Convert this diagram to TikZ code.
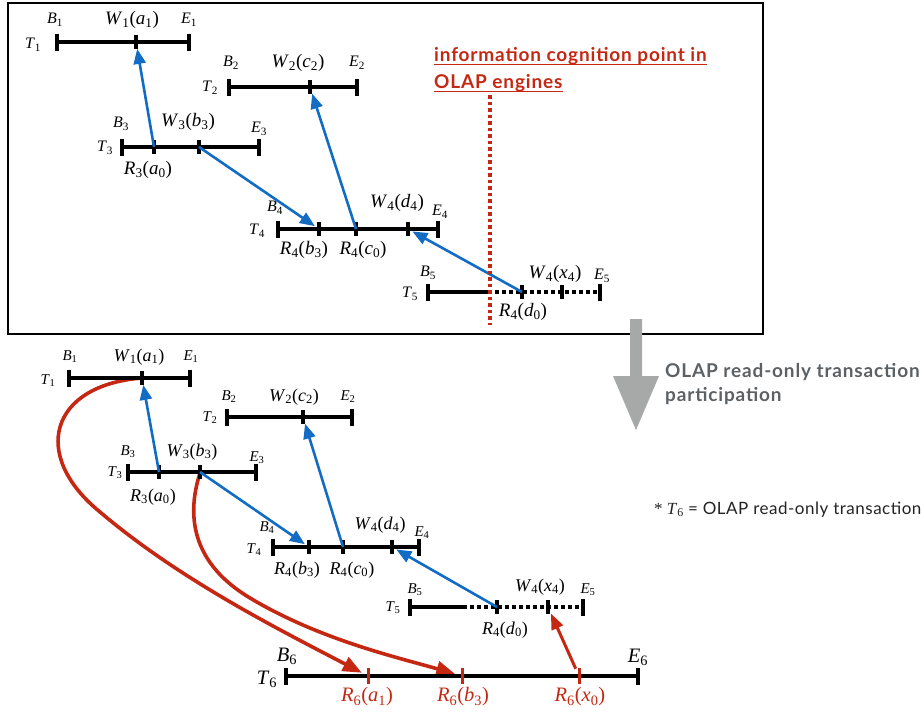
\documentclass[tikz,border=0pt]{standalone}
\usepackage{fontspec}
\setmainfont{Liberation Serif}
\newfontfamily\lato{Lato}[LetterSpace=4.5]
\newfontfamily\latonote{Lato}[LetterSpace=3]
\usetikzlibrary{arrows.meta}
\definecolor{myblue}{RGB}{18,108,196}
\definecolor{myred}{RGB}{196,40,18}
\definecolor{mygrey}{RGB}{166,169,168}
\definecolor{greytext}{RGB}{92,97,102}
\definecolor{notetext}{RGB}{35,35,35}
\tikzset{
  tl/.style={line width=4pt},
  tk/.style={line width=3.5pt},
  blu/.style={draw=myblue,line width=2.6pt,-{Triangle[length=15pt,width=12pt]}},
  redc/.style={draw=myred,line width=3.6pt,-{Triangle[length=19pt,width=15pt]}},
  redl/.style={draw=myred,line width=3pt,-{Triangle[length=16pt,width=12pt]}},
  lab/.style={font=\fontsize{19}{22}\selectfont, inner sep=0pt},
  slab/.style={font=\fontsize{16}{19}\selectfont, inner sep=0pt},
  blab/.style={font=\fontsize{18}{21}\selectfont, inner sep=0pt},
  bslab/.style={font=\fontsize{15}{18}\selectfont, inner sep=0pt},
  glab/.style={font=\fontsize{20.5}{24}\selectfont, inner sep=0pt},
  sanstxt/.style={font=\lato\bfseries\fontsize{19}{22}\selectfont, inner sep=0pt, anchor=base west}
}
\newcommand\tlab[4]{\textit{#1}\textsubscript{#2}(\textit{#3}\textsubscript{#4})}
\newcommand\blab[2]{\textit{#1}\textsubscript{#2}}
\newcommand\mytl[3]{\draw[tl] (#1,#3) -- (#2,#3);
  \draw[tl] (#1,#3-8.5) -- (#1,#3+8.5);
  \draw[tl] (#2,#3-8.5) -- (#2,#3+8.5);}
\newcommand\mytk[3]{\draw[tk] (#1,#2-7) -- (#1,#2+7); \coordinate (#3) at (#1,#2);}
\begin{document}
\begin{tikzpicture}[x=1pt,y=-1pt]
\useasboundingbox (0,0) rectangle (921,715);

% ---------------- top panel ----------------
\draw[line width=1.8pt] (8,3) rectangle (763,334);

% T1
\mytl{57}{189}{42} \mytk{136}{42}{w1}
\node[slab] (tb1) at (55,20) {\blab{B}{1}};
\node[lab] (tw1) at (132,20) {\tlab{W}{1}{a}{1}};
\node[slab] (te1) at (189,20) {\blab{E}{1}};
\node[slab] (tt1) at (33,45) {\blab{T}{1}};
% T2
\mytl{229}{357}{87} \mytk{310}{87}{w2}
\node[slab] (tb2) at (231,63) {\blab{B}{2}};
\node[lab] (tw2) at (298,63) {\tlab{W}{2}{c}{2}};
\node[slab] (te2) at (357,63) {\blab{E}{2}};
\node[slab] (tt2) at (210,88) {\blab{T}{2}};
% T3
\mytl{122}{259}{147} \mytk{154}{147}{r3} \mytk{199}{147}{w3}
\node[slab] (tb3) at (121,124) {\blab{B}{3}};
\node[lab] (tw3) at (188,122) {\tlab{W}{3}{b}{3}};
\node[slab] (te3) at (259,129) {\blab{E}{3}};
\node[slab] (tt3) at (105,148) {\blab{T}{3}};
\node[lab] (tr3) at (148,170) {\tlab{R}{3}{a}{0}};
% T4
\mytl{278}{438}{229} \mytk{319}{229}{r4b} \mytk{356}{229}{r4c} \mytk{408}{229}{w4d}
\node[slab] (tb4) at (275,208) {\blab{B}{4}};
\node[lab] (tw4) at (397,203) {\tlab{W}{4}{d}{4}};
\node[slab] (te4) at (440,212) {\blab{E}{4}};
\node[slab] (tt4) at (257,231) {\blab{T}{4}};
\node[lab] (tr4b) at (304,250) {\tlab{R}{4}{b}{3}};
\node[lab] (tr4c) at (363,250) {\tlab{R}{4}{c}{0}};
% T5
\draw[tl] (428,292) -- (488,292);
\draw[tl,dash pattern=on 4pt off 3pt] (488,292) -- (600,292);
\draw[tl] (428,283.5) -- (428,300.5);
\draw[tl] (600,283.5) -- (600,300.5);
\mytk{522}{292}{r4d} \mytk{562}{292}{w4x}
\node[slab] (tb5) at (428,273) {\blab{B}{5}};
\node[lab] (tw5) at (555,274) {\tlab{W}{4}{x}{4}};
\node[slab] (te5) at (602,276) {\blab{E}{5}};
\node[slab] (tt5) at (410,294) {\blab{T}{5}};
\node[lab] (tr4d) at (523,312) {\tlab{R}{4}{d}{0}};

% blue arrows top
\draw[blu,shorten >=7pt] (r3) -- (w1);
\draw[blu,shorten >=5pt] (w3) -- (r4b);
\draw[blu,shorten >=7pt] (r4c) -- (w2);
\draw[blu,shorten >=5pt] (r4d) -- (w4d);

% information cognition point
\draw[myred,line width=3.5pt,dash pattern=on 3.5pt off 3pt] (490,95) -- (490,325);
\node[sanstxt,text=myred] (ic1) at (434,61) {information cognition point in};
\node[sanstxt,text=myred] (ic2) at (434,88) {OLAP engines};
\draw[myred,line width=1.3pt] ([yshift=-3.5pt]ic1.base west) -- ([yshift=-3.5pt]ic1.base east);
\draw[myred,line width=1.3pt] ([yshift=-3.5pt]ic2.base west) -- ([yshift=-3.5pt]ic2.base east);

% grey arrow
\fill[mygrey] (630,319) -- (642,319) -- (642,376) -- (659,376) -- (636,430) -- (613,376) -- (630,376) -- cycle;
\node[sanstxt,text=greytext] (g1) at (665,377) {OLAP read-only transaction};
\node[sanstxt,text=greytext] (g2) at (665,401) {participation};

% ---------------- bottom panel ----------------
% red curves
\draw[redc,shorten >=7pt] (142,378) .. controls (50,385) and (30,455) .. (100,512)
  .. controls (180,580) and (280,630) .. (368,676);
\draw[redc,shorten >=7pt] (200,473) .. controls (185,520) and (195,565) .. (250,598)
  .. controls (320,640) and (400,658) .. (462,676);

% T1
\mytl{69}{190}{378} \mytk{142}{378}{bw1}
\node[bslab] (bb1) at (70,357) {\blab{B}{1}};
\node[blab] (bw1l) at (139,357) {\tlab{W}{1}{a}{1}};
\node[bslab] (be1) at (191,357) {\blab{E}{1}};
\node[bslab] (bt1) at (48,381) {\blab{T}{1}};
% T2
\mytl{227}{352}{417} \mytk{303}{417}{bw2}
\node[bslab] (bb2) at (229,397) {\blab{B}{2}};
\node[blab] (bw2l) at (294,397) {\tlab{W}{2}{c}{2}};
\node[bslab] (be2) at (348,397) {\blab{E}{2}};
\node[bslab] (bt2) at (210,418) {\blab{T}{2}};
% T3
\mytl{128}{256}{472} \mytk{159}{472}{br3} \mytk{200}{472}{bw3}
\node[bslab] (bb3) at (128,452) {\blab{B}{3}};
\node[blab] (bw3l) at (192,452) {\tlab{W}{3}{b}{3}};
\node[bslab] (be3) at (257,458) {\blab{E}{3}};
\node[bslab] (bt3) at (115,473) {\blab{T}{3}};
\node[blab] (br3l) at (153,497) {\tlab{R}{3}{a}{0}};
% T4
\mytl{273}{419}{547} \mytk{309}{547}{br4b} \mytk{343}{547}{br4c} \mytk{392}{547}{bw4d}
\node[bslab] (bb4) at (267,528) {\blab{B}{4}};
\node[blab] (bw4l) at (380,525) {\tlab{W}{4}{d}{4}};
\node[bslab] (be4) at (422,533) {\blab{E}{4}};
\node[bslab] (bt4) at (254,550) {\blab{T}{4}};
\node[blab] (br4bl) at (297,570) {\tlab{R}{4}{b}{3}};
\node[blab] (br4cl) at (352,570) {\tlab{R}{4}{c}{0}};
% T5
\draw[tl] (410,607) -- (463,607);
\draw[tl,dash pattern=on 4pt off 3pt] (463,607) -- (583,607);
\draw[tl] (410,598.5) -- (410,615.5);
\draw[tl] (583,598.5) -- (583,615.5);
\mytk{497}{607}{br4d} \mytk{548}{607}{bw4x}
\node[bslab] (bb5) at (415,590) {\blab{B}{5}};
\node[blab] (bw5l) at (540,587) {\tlab{W}{4}{x}{4}};
\node[bslab] (be5) at (588,590) {\blab{E}{5}};
\node[bslab] (bt5) at (393,608) {\blab{T}{5}};
\node[blab] (br4dl) at (505,630) {\tlab{R}{4}{d}{0}};
% T6
\mytl{286}{638}{676}
\foreach \x/\n in {368/r6a,462/r6b,579/r6x}{
  \draw[myred,line width=3pt] (\x,668) -- (\x,684);
  \coordinate (\n) at (\x,676);}
\node[glab] (bb6) at (287,656) {\blab{B}{6}};
\node[glab] (be6) at (638,657) {\blab{E}{6}};
\node[glab] (bt6) at (267,679) {\blab{T}{6}};
\node[glab,text=myred] (r6al) at (367,697) {\tlab{R}{6}{a}{1}};
\node[glab,text=myred] (r6bl) at (463,697) {\tlab{R}{6}{b}{3}};
\node[glab,text=myred] (r6xl) at (580,697) {\tlab{R}{6}{x}{0}};

% blue arrows bottom
\draw[blu,shorten >=7pt] (br3) -- (bw1);
\draw[blu,shorten >=5pt] (bw3) -- (br4b);
\draw[blu,shorten >=7pt] (br4c) -- (bw2);
\draw[blu,shorten >=5pt] (br4d) -- (bw4d);
% red straight arrow
\draw[redl,shorten <=8pt,shorten >=7pt] (r6x) -- (bw4x);

% footnote
\node[anchor=base west,inner sep=0pt,text=notetext,font=\fontsize{17}{20}\selectfont] (note) at (654,514)
  {* \textit{T}\textsubscript{6} {\latonote = OLAP read-only transaction}};
\end{tikzpicture}
\end{document}
